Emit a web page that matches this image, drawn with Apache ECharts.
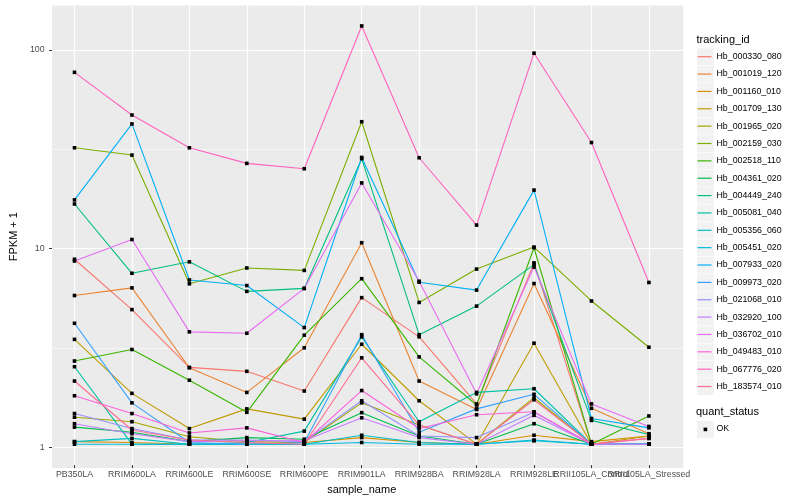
<!DOCTYPE html>
<html>
<head>
<meta charset="utf-8">
<script src="https://cdn.jsdelivr.net/npm/echarts@6/dist/echarts.min.js"></script>
<style>
html,body{margin:0;padding:0;background:#fff;}
#c{width:800px;height:500px;}
</style>
</head>
<body>
<div id="c"></div>
<script>
// ---- data ----
const categories = ['PB350LA','RRIM600LA','RRIM600LE','RRIM600SE','RRIM600PE','RRIM901LA','RRIM928BA','RRIM928LA','RRIM928LE','RRII105LA_Control','RRII105LA_Stressed'];
const trackingIds = ['Hb_000330_080','Hb_001019_120','Hb_001160_010','Hb_001709_130','Hb_001965_020','Hb_002159_030','Hb_002518_110','Hb_004361_020','Hb_004449_240','Hb_005081_040','Hb_005356_060','Hb_005451_020','Hb_007933_020','Hb_009973_020','Hb_021068_010','Hb_032920_100','Hb_036702_010','Hb_049483_010','Hb_067776_020','Hb_183574_010'];
const hb_000330_080 = [8.66, 4.81, 2.45, 2.34, 1.86, 5.53, 3.5, 1.6, 8.3, 1.0, 1.0];
const hb_001019_120 = [5.67, 6.2, 2.44, 1.83, 3.08, 10.5, 2.09, 1.5, 6.52, 1.52, 1.13];
const hb_001160_010 = [1.03, 1.02, 1.0, 1.0, 1.02, 1.08, 1.02, 1.0, 1.11, 1.03, 1.1];
const hb_001709_130 = [3.4, 1.81, 1.2, 1.51, 1.34, 3.21, 1.66, 1.0, 3.25, 1.0, 1.1];
const hb_001965_020 = [1.37, 1.30, 1.09, 1.03, 1.02, 1.62, 1.25, 1.0, 1.72, 1.0, 1.0];
const hb_002159_030 = [31.8, 29.2, 6.5, 7.82, 7.6, 43.1, 5.23, 7.72, 9.98, 5.32, 3.1];
const hb_002518_110 = [2.64, 3.02, 2.11, 1.45, 3.57, 6.9, 2.77, 1.58, 9.9, 1.0, 1.39];
const hb_004361_020 = [1.22, 1.15, 1.03, 1.08, 1.06, 1.445, 1.1, 1.0, 1.27, 1.0, 1.0];
const hb_004449_240 = [16.5, 7.35, 8.4, 5.95, 6.16, 28.0, 3.59, 5.01, 8.13, 1.32, 1.12];
const hb_005081_040 = [2.47, 1.0, 1.0, 1.02, 1.165, 3.5, 1.3, 1.83, 1.91, 1.0, 1.0];
const hb_005356_060 = [1.03, 1.07, 1.0, 1.0, 1.0, 1.11, 1.02, 1.0, 1.05, 1.0, 1.0];
const hb_005451_020 = [1.0, 1.0, 1.0, 1.0, 1.0, 1.02, 1.0, 1.0, 1.04, 1.0, 1.0];
const hb_007933_020 = [17.3, 42.0, 6.8, 6.37, 3.9, 28.4, 6.62, 6.04, 19.4, 1.35, 1.21];
const hb_009973_020 = [4.1, 1.62, 1.02, 1.0, 1.02, 3.59, 1.15, 1.51, 1.79, 1.0, 1.0];
const hb_021068_010 = [1.43, 1.2, 1.05, 1.05, 1.03, 1.66, 1.1, 1.08, 1.45, 1.0, 1.0];
const hb_032920_100 = [1.27, 1.13, 1.03, 1.04, 1.04, 1.36, 1.08, 1.0, 1.4, 1.0, 1.0];
const hb_036702_010 = [8.48, 10.9, 3.71, 3.65, 6.16, 21.1, 6.7, 1.8, 7.9, 1.6, 1.23];
const hb_049483_010 = [1.76, 1.43, 1.14, 1.21, 1.02, 1.87, 1.2, 1.41, 1.46, 1.0, 1.07];
const hb_067776_020 = [76.7, 46.6, 31.8, 26.5, 24.9, 131.8, 28.3, 12.9, 95.9, 33.8, 6.6];
const hb_183574_010 = [2.09, 1.18, 1.05, 1.02, 1.0, 2.74, 1.25, 1.0, 1.68, 1.0, 1.07];
const seriesValues = [hb_000330_080, hb_001019_120, hb_001160_010, hb_001709_130, hb_001965_020, hb_002159_030, hb_002518_110, hb_004361_020, hb_004449_240, hb_005081_040, hb_005356_060, hb_005451_020, hb_007933_020, hb_009973_020, hb_021068_010, hb_032920_100, hb_036702_010, hb_049483_010, hb_067776_020, hb_183574_010];
const yTickValues = [1, 10, 100];
const quantStatus = ['OK'];

// ---- styles ----
const colors = ['#F8766D','#EA8331','#D89000','#C09B00','#A3A500','#7CAE00','#39B600','#00BB4E','#00BF7D','#00C1A3','#00BFC4','#00BAE0','#00B0F6','#35A2FF','#9590FF','#C77CFF','#E76BF3','#FA62DB','#FF62BC','#FF6C91'];
const FONT = '"Liberation Sans", Arial, Helvetica, sans-serif';
const yMin = 0.7834, yMax = 168.3;
const panel = {left: 40, top: 5, width: 643.3, height: 463.3};
const dataGrid = {left: 74.5, top: 5, width: 574.4, height: 463.3};

const legendTop = 48.7, legendStep = 17.36;
const graphics = [];
graphics.push({type:'text', left: 696.5, top: 34.5, z: 10, style:{text:'tracking_id', font:'11px ' + FONT, fill:'#000'}});
for (let i = 0; i < trackingIds.length; i++) {
  graphics.push({type:'rect', z: 1, shape:{x: 697, y: legendTop + i*legendStep - 0.3, width: 16.8, height: 16.8}, style:{fill:'#F2F2F2'}});
}
graphics.push({type:'text', left: 696, top: 406.5, z: 10, style:{text:'quant_status', font:'11px ' + FONT, fill:'#000'}});
graphics.push({type:'rect', z: 1, shape:{x: 697, y: 421, width: 16.8, height: 16.8}, style:{fill:'#F2F2F2'}});
graphics.push({type:'rect', z: 5, shape:{x: 703.6, y: 427.6, width: 3.6, height: 3.6}, style:{fill:'#000'}});
graphics.push({type:'text', left: 716.5, top: 424.5, z: 10, style:{text: quantStatus[0], font:'8.8px ' + FONT, fill:'#000'}});

const chart = echarts.init(document.getElementById('c'), null, {renderer:'canvas'});
chart.setOption({
  animation: false,
  backgroundColor: '#FFFFFF',
  textStyle: {fontFamily: FONT},
  grid: [
    Object.assign({show: true, backgroundColor: '#EBEBEB', borderWidth: 0}, panel),
    Object.assign({show: false}, dataGrid)
  ],
  xAxis: [
    {gridIndex: 0, type: 'value', min: 0, max: 1, show: false},
    {gridIndex: 1, type: 'category', data: categories, boundaryGap: false,
     axisLine: {show: false},
     axisTick: {show: true, length: 3, lineStyle: {color: '#333333', width: 1}},
     axisLabel: {interval: 0, hideOverlap: false, fontSize: 8.8, color: '#4D4D4D', margin: 5, fontFamily: FONT},
     splitLine: {show: true, lineStyle: {color: '#FFFFFF', width: 1.2}},
     name: 'sample_name', nameLocation: 'middle', nameGap: 14,
     nameTextStyle: {fontSize: 11, color: '#000', fontFamily: FONT}}
  ],
  yAxis: [
    {gridIndex: 0, type: 'log', logBase: 10, min: yMin, max: yMax,
     axisLine: {show: false},
     axisTick: {show: true, length: 3, customValues: yTickValues, lineStyle: {color: '#333333', width: 1}},
     axisLabel: {customValues: yTickValues, fontSize: 8.8, color: '#4D4D4D', margin: 7.5, fontFamily: FONT,
                 formatter: v => (yTickValues.indexOf(Math.round(v)) >= 0 && Math.abs(v - Math.round(v)) < 1e-6) ? String(Math.round(v)) : ''},
     splitLine: {show: true, lineStyle: {color: '#FFFFFF', width: 1.2}},
     name: 'FPKM + 1', nameLocation: 'middle', nameGap: 22, nameRotate: 90,
     nameTextStyle: {fontSize: 11, color: '#000', fontFamily: FONT}},
    {gridIndex: 0, type: 'log', logBase: Math.sqrt(10), min: yMin, max: yMax,
     axisLine: {show: false}, axisTick: {show: false}, axisLabel: {show: false},
     splitLine: {show: true, lineStyle: {color: '#FFFFFF', width: 0.55}}},
    {gridIndex: 1, type: 'log', logBase: 10, min: yMin, max: yMax, show: false,
     splitLine: {show: false}}
  ],
  legend: {
    orient: 'vertical', left: 697.5, top: legendTop, z: 6, padding: 0,
    itemWidth: 14, itemHeight: 1.2, itemGap: 1.36,
    icon: 'rect',
    textStyle: {fontSize: 8.8, color: '#000', lineHeight: 16, fontFamily: FONT},
    selectedMode: false,
    data: trackingIds.map((n, i) => ({name: n, icon: 'rect', itemStyle: {color: colors[i], borderWidth: 0}}))
  },
  graphic: graphics,
  series: trackingIds.map((n, i) => ({
    name: n, type: 'line', xAxisIndex: 1, yAxisIndex: 2,
    data: seriesValues[i],
    symbol: 'rect', symbolSize: 3.6, showAllSymbol: true,
    itemStyle: {color: '#000000'},
    lineStyle: {color: colors[i], width: 1.1},
    emphasis: {disabled: true},
    silent: true
  }))
});
</script>
</body>
</html>
